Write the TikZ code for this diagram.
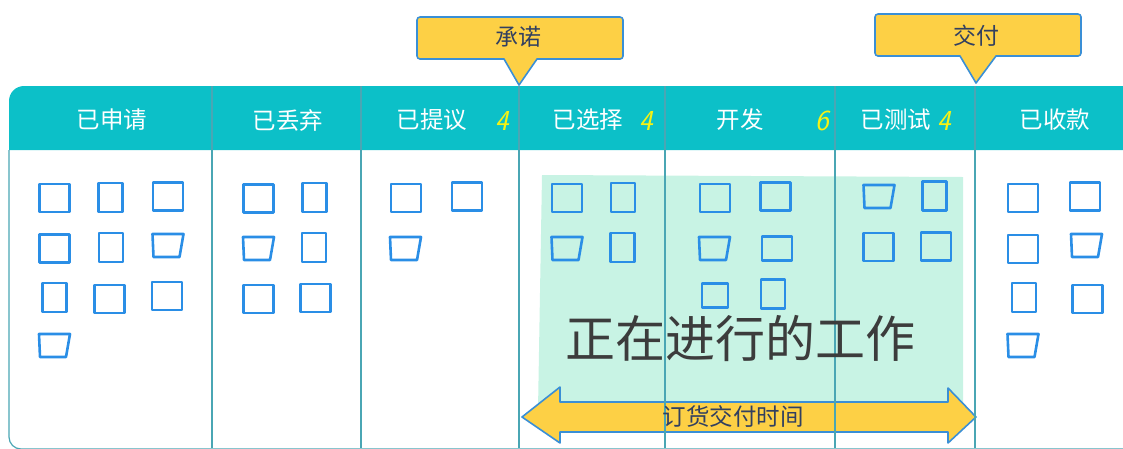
\documentclass[tikz,border=0pt]{standalone}
\usepackage{fontspec}
\newfontfamily\cjk{Noto Sans CJK SC}

\definecolor{headteal}{RGB}{12,192,200}
\definecolor{divline}{RGB}{74,166,180}
\definecolor{mint}{RGB}{200,243,228}
\definecolor{calloutyellow}{RGB}{253,208,69}
\definecolor{calloutblue}{RGB}{58,143,214}
\definecolor{cardblue}{RGB}{42,142,230}
\definecolor{wipyellow}{RGB}{246,242,20}
\definecolor{inktext}{RGB}{60,60,60}
\definecolor{labelnavy}{RGB}{50,64,96}

\tikzset{
  headlabel/.style={text=white, font=\cjk\fontsize{23.5}{28}\selectfont},
  wiplimit/.style={text=wipyellow, font=\sffamily\itshape\fontsize{29}{32}\selectfont},
  cardline/.style={draw=cardblue, line width=2.6pt, line join=round},
  card/.style={cardline, minimum width=30pt, minimum height=28pt, inner sep=0pt},
  tallcard/.style={card, minimum width=24pt, minimum height=29pt},
  trapcard/.pic={\draw[cardline] (-15.5,-11.5) -- (15.5,-11.5) -- (11.5,11.5) -- (-14.5,11.5) -- cycle;},
  callout/.style={fill=calloutyellow, draw=calloutblue, line width=1.6pt, line join=round},
  calloutlabel/.style={text=labelnavy, font=\cjk\fontsize{23}{27}\selectfont},
  divider/.style={draw=divline, line width=1.2pt},
}

\begin{document}
\begin{tikzpicture}[x=1pt, y=-1pt]
	\useasboundingbox (0,0) rectangle (1123,448);

	% header band and work in progress area
	\fill[headteal] (9,150) [rounded corners=15pt] -- (9,86) [sharp corners] -- (1130,86) -- (1130,150) -- cycle;
	\fill[mint] (542,175) -- (963,177) -- (963,410) -- (538,410) -- cycle;
	\draw[divider, rounded corners=12pt] (9,150) -- (9,449) -- (1130,449);

	% callouts
	\filldraw[callout] (519,85) -- (504,59) [rounded corners=3pt] -- (417,59) -- (417,17) -- (623,17) -- (623,59) [sharp corners] -- (537,59) -- cycle;
	\filldraw[callout] (976,83) -- (960,56) [rounded corners=3pt] -- (875,56) -- (875,14) -- (1081,14) -- (1081,56) [sharp corners] -- (996,56) -- cycle;
	\node[calloutlabel] (commit) at (518,37) {承诺};
	\node[calloutlabel] (deliver) at (976,36) {交付};

	% column titles
	\node[headlabel] (requested) at (112,120) {已申请};
	\node[headlabel] (discarded) at (288,120) {已丢弃};
	\node[headlabel] (proposed) at (432,120) {已提议};
	\node[wiplimit] (proposedlimit) at (502,121) {4};
	\node[headlabel] (selected) at (588,120) {已选择};
	\node[wiplimit] (selectedlimit) at (646,121) {4};
	\node[headlabel] (develop) at (740,120) {开发};
	\node[wiplimit] (developlimit) at (822,121) {6};
	\node[headlabel] (tested) at (896,120) {已测试};
	\node[wiplimit] (testedlimit) at (944,121) {4};
	\node[headlabel] (paid) at (1055,120) {已收款};

	% cards
	\node[card] (rq1) at (54.5,198) {};
	\node[tallcard] (rq2) at (110.5,197.5) {};
	\node[card] (rq3) at (168,196.5) {};
	\node[card] (rq4) at (54.5,248.5) {};
	\node[tallcard] (rq5) at (111,247.5) {};
	\pic (rq6) at (168,245.5) {trapcard};
	\node[tallcard] (rq7) at (54.5,297.5) {};
	\node[card] (rq8) at (109.5,299) {};
	\node[card] (rq9) at (167,296) {};
	\pic (rq10) at (54.5,345.5) {trapcard};

	\node[card] (dc1) at (258.5,198.5) {};
	\node[tallcard] (dc2) at (314.5,197.5) {};
	\pic (dc3) at (258.5,248.5) {trapcard};
	\node[tallcard] (dc4) at (314,247.5) {};
	\node[card] (dc5) at (258.5,299) {};
	\node[card] (dc6) at (315.5,298) {};

	\node[card] (pr1) at (406,198) {};
	\node[card] (pr2) at (467,196.5) {};
	\pic (pr3) at (405.5,248.5) {trapcard};

	\node[card] (se1) at (567,198) {};
	\node[tallcard] (se2) at (623,197.5) {};
	\pic (se3) at (567,248.5) {trapcard};
	\node[tallcard] (se4) at (622.5,247.5) {};

	\node[card] (dv1) at (715,198) {};
	\node[card] (dv2) at (775.5,196.5) {};
	\pic (dv3) at (714.5,248.5) {trapcard};
	\node[card, minimum height=24pt] (dv4) at (777,248.5) {};
	\node[card, minimum width=26pt, minimum height=24pt] (dv5) at (715,295.5) {};
	\node[tallcard] (dv6) at (773,294) {};

	\pic (ts1) at (879,196.5) {trapcard};
	\node[tallcard] (ts2) at (934.5,196) {};
	\node[card] (ts3) at (878.5,247) {};
	\node[card] (ts4) at (936,246.5) {};

	\node[card] (pd1) at (1023,198) {};
	\node[card] (pd2) at (1085,196.5) {};
	\node[card] (pd3) at (1023,249) {};
	\pic (pd4) at (1086.5,245.5) {trapcard};
	\node[tallcard] (pd5) at (1024,297.5) {};
	\node[card] (pd6) at (1087.5,299) {};
	\pic (pd7) at (1023,345.5) {trapcard};

	% lead time arrow
	\filldraw[callout] (522,417) -- (560,387) -- (560,402) -- (948,402) -- (948,388) -- (976,417) -- (948,443) -- (948,432) -- (560,432) -- (560,443) -- cycle;

	% column dividers
	\draw[divider] (212,86) -- (212,448);
	\draw[divider] (361,86) -- (361,448);
	\draw[divider] (519,86) -- (519,448);
	\draw[divider] (665,86) -- (665,448);
	\draw[divider] (835,86) -- (835,448);
	\draw[divider] (975,86) -- (975,448);

	\node[text=inktext, font=\cjk\fontsize{50}{56}\selectfont] (wip) at (740,338) {正在进行的工作};
	\node[calloutlabel, font=\cjk\fontsize{23.5}{28}\selectfont] (leadtime) at (733,416) {订货交付时间};

\end{tikzpicture}
\end{document}
